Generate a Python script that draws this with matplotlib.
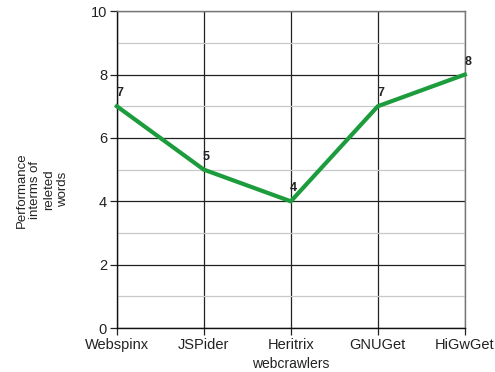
import matplotlib
matplotlib.use("Agg")
import matplotlib.pyplot as plt
from matplotlib.ticker import MultipleLocator

crawlers = ["Webspinx", "JSPider", "Heritrix", "GNUGet", "HiGwGet"]
performance = [7, 5, 4, 7, 8]

plt.rcParams['font.family'] = ['Liberation Sans', 'DejaVu Sans']

fig = plt.figure(figsize=(4.95, 3.72), dpi=100)
ax = fig.add_axes([0.236, 0.118, 0.703, 0.852])

x = list(range(len(crawlers)))
ax.set_xlim(0, len(crawlers) - 1)
ax.set_ylim(0, 10)
ax.yaxis.set_major_locator(MultipleLocator(2))
ax.yaxis.set_minor_locator(MultipleLocator(1))
ax.grid(which='major', axis='y', color='#222222', linewidth=0.9)
ax.grid(which='minor', axis='y', color='#c8c8c8', linewidth=0.9)
ax.grid(which='major', axis='x', color='#222222', linewidth=0.9)
ax.set_axisbelow(True)

ax.plot(x, performance, color='#1c9c3c', linewidth=3.0, solid_joinstyle='miter', clip_on=False, zorder=3)
for xi, v in zip(x, performance):
    ax.annotate(str(v), (xi, v), xytext=(2, 5), textcoords='offset points',
                ha='center', va='bottom', fontsize=9, fontweight='bold', color='#222222')

ax.set_xticks(x)
ax.set_xticklabels(crawlers)
ax.tick_params(axis='both', labelsize=10.5, colors='#222222', length=5, width=0.9)
ax.tick_params(axis='y', which='minor', length=0)
ax.tick_params(axis='y', pad=2)
ax.tick_params(axis='x', pad=2)

for s in ['left', 'bottom']:
    ax.spines[s].set_color('#111111')
    ax.spines[s].set_linewidth(1.0)
for s in ['top', 'right']:
    ax.spines[s].set_color('#777777')
    ax.spines[s].set_linewidth(1.0)

ax.set_xlabel("webcrawlers", fontsize=10, color='#222222', labelpad=4)
fig.text(0.085, 0.49, "Performance\ninterms of\nreleted\nwords", rotation=90,
         ha='center', va='center', fontsize=9.5, color='#222222', multialignment='center')

fig.savefig("out.png", dpi=100)
